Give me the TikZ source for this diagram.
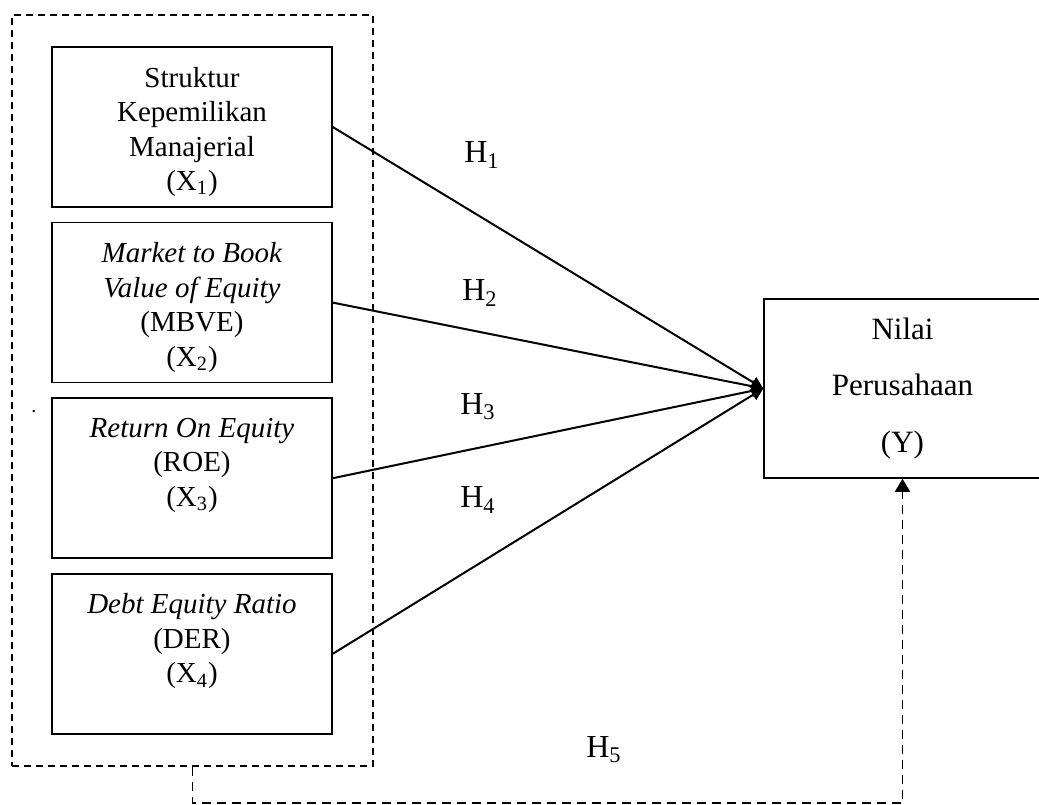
\documentclass[tikz,border=0pt]{standalone}
\usepackage{fontspec}
\setmainfont{Liberation Serif}
\usetikzlibrary{arrows.meta, positioning}

\newcommand{\boxtext}[1]{\parbox[c][60pt][t]{140pt}{\centering #1}}

\tikzset{
  varbox/.style={draw, line width=0.75pt, minimum width=140pt, minimum height=80pt,
    inner sep=0pt, font=\fontsize{14.5}{17.25}\selectfont},
  ybox/.style={draw, line width=0.75pt, minimum width=138.5pt, minimum height=89.5pt,
    align=center, font=\fontsize{15.5}{28.25}\selectfont},
  grpbox/.style={draw, dash pattern=on 3.5pt off 2.5pt, line width=0.75pt,
    minimum width=180.5pt, minimum height=375.5pt},
  hlabel/.style={font=\fontsize{16}{19}\selectfont},
  effect/.style={-{Triangle[length=6pt, width=6pt]}, line width=1pt},
  simul/.style={-{Triangle[length=6.5pt, width=7.5pt]}, dash pattern=on 4.5pt off 3pt, line width=0.8pt}
}

\begin{document}
\begin{tikzpicture}[x=0.5pt, y=-0.5pt, node distance=87.8pt, on grid]
   \useasboundingbox (0,0) rectangle (1039,804);

   \node[grpbox] (grp) at (192.5,390.5) {};
   \node[varbox] (x1) at (192,127) {\boxtext{Struktur\\Kepemilikan\\Manajerial\\(X\textsubscript{1})}};
   \node[varbox] (x2) [below=of x1] {\boxtext{\textit{Market to Book}\\\textit{Value of Equity}\\(MBVE)\\(X\textsubscript{2})}};
   \node[varbox] (x3) [below=of x2] {\boxtext{\textit{Return On Equity}\\(ROE)\\(X\textsubscript{3})}};
   \node[varbox] (x4) [below=of x3] {\boxtext{\textit{Debt Equity Ratio}\\(DER)\\(X\textsubscript{4})}};
   \node[ybox] (y) at (902.5,388.5) {Nilai\\Perusahaan\\(Y)};
   \node[inner sep=0pt] (dot) at (34,412) {.};

   \node[hlabel] (h1) at (482,155) {H\textsubscript{1}};
   \node[hlabel] (h2) at (480,293) {H\textsubscript{2}};
   \node[hlabel] (h3) at (478,407) {H\textsubscript{3}};
   \node[hlabel] (h4) at (478,500) {H\textsubscript{4}};
   \node[hlabel] (h5) at (604,750) {H\textsubscript{5}};

   \path[effect]
    (x1.east) edge (y.west)
    (x2.east) edge (y.west)
    (x3.east) edge (y.west)
    (x4.east) edge (y.west);
   \draw[simul] (grp.south) -- ++(0,-18pt) -| (y.south);
\end{tikzpicture}
\end{document}
